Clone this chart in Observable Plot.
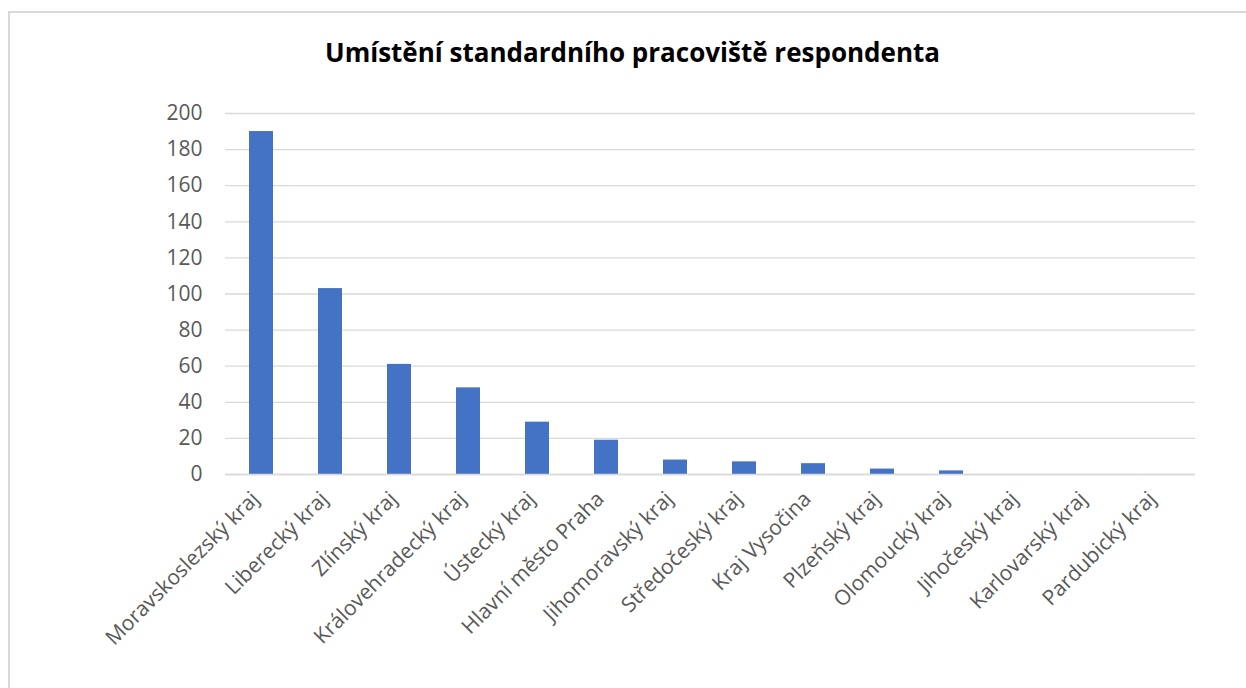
<!DOCTYPE html>
<html>
<head>
<meta charset="utf-8">
<script src="https://cdn.jsdelivr.net/npm/d3@7"></script>
<script src="https://cdn.jsdelivr.net/npm/@observablehq/plot@0.6"></script>
<style>
  html, body { margin: 0; padding: 0; background: #fff; overflow: hidden; }
  #wrap { position: relative; width: 1246px; height: 688px; overflow: hidden; }
  #frame { position: absolute; left: 8px; top: 11px; width: 1300px; height: 800px; border: 2px solid #d9d9d9; box-sizing: border-box; }
  #title { position: absolute; left: 0; top: 0; width: 1265px; height: 90px; text-align: center;
           font-family: "Open Sans", sans-serif; font-weight: bold; font-size: 26px; line-height: 26px;
           color: #000; padding-top: 39px; box-sizing: border-box; }
  #chart { position: absolute; left: 0; top: 90px; }
</style>
</head>
<body>
<div id="wrap">
  <div id="frame"></div>
  <div id="title">Umístění standardního pracoviště respondenta</div>
  <div id="chart"></div>
</div>
<script>
const categories = ["Moravskoslezský kraj", "Liberecký kraj", "Zlínský kraj", "Královehradecký kraj",
  "Ústecký kraj", "Hlavní město Praha", "Jihomoravský kraj", "Středočeský kraj", "Kraj Vysočina",
  "Plzeňský kraj", "Olomoucký kraj", "Jihočeský kraj", "Karlovarský kraj", "Pardubický kraj"];
const values = [190, 103, 61, 48, 29, 19, 8, 7, 6, 3, 2, 0, 0, 0];
const yTicks = [0, 20, 40, 60, 80, 100, 120, 140, 160, 180, 200];

const data = categories.map((c, i) => ({category: c, value: values[i]}));

const chart = Plot.plot({
  width: 1246,
  height: 598,
  marginTop: 23,
  marginBottom: 214,
  marginLeft: 225,
  marginRight: 51,
  style: {fontFamily: "Open Sans, sans-serif", background: "transparent", overflow: "visible"},
  x: {domain: categories, paddingInner: 0.645, paddingOuter: 0.3225, label: null},
  y: {domain: [0, 200], label: null},
  marks: [
    Plot.gridY(yTicks, {stroke: "#d9d9d9", strokeOpacity: 1, strokeWidth: 1.3}),
    Plot.barY(data, {x: "category", y: "value", fill: "#4472c4"}),
    Plot.ruleY([0], {stroke: "#d9d9d9", strokeWidth: 1.3}),
    Plot.axisY(yTicks, {tickSize: 0, tickPadding: 23, fontSize: 21, fill: "#595959", label: null}),
    Plot.axisX({tickSize: 0, tickRotate: -45, tickPadding: 21, dx: -6, fontSize: 21, fill: "#595959", label: null})
  ]
});
document.getElementById("chart").appendChild(chart);
</script>
</body>
</html>
